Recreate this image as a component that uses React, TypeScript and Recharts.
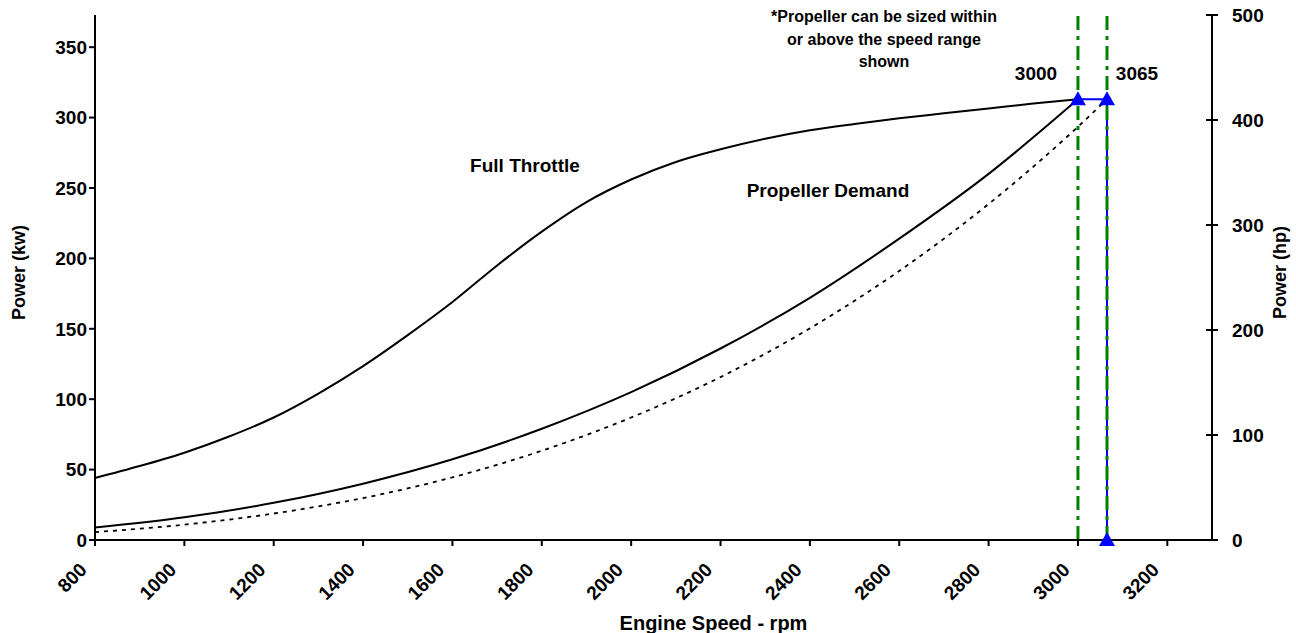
import React from 'react';
import { ComposedChart, Line, XAxis, YAxis, ReferenceLine, Label } from 'recharts';

// engine speed ticks (rpm) and power ticks
const rpmTicks = [800, 1000, 1200, 1400, 1600, 1800, 2000, 2200, 2400, 2600, 2800, 3000, 3200];
const kwTicks = [0, 50, 100, 150, 200, 250, 300, 350];
const hpTicks = [0, 100, 200, 300, 400, 500];

// full throttle power curve
const throttleRpm = [800, 900, 1000, 1100, 1200, 1300, 1400, 1500, 1600, 1700, 1800, 1900,
  2000, 2100, 2200, 2300, 2400, 2500, 2600, 2700, 2800, 2900, 3000];
const throttleKw = [44, 52.5, 62, 73.5, 87, 104, 123.5, 145.5, 169, 195, 219, 240,
  256, 268.5, 277.5, 285, 291, 295.5, 299.5, 303, 306.5, 310, 313];

// propeller demand (solid), rated at 3000 rpm
const demandRpm = [800, 1000, 1200, 1400, 1600, 1800, 2000, 2200, 2400, 2600, 2800, 3000];
const demandKw = [8.8, 16.1, 26.4, 40, 57.3, 79, 105, 136, 172, 214, 260, 313];

// propeller demand (dotted), rated at 3065 rpm
const demand2Rpm = [800, 1000, 1200, 1400, 1600, 1800, 2000, 2200, 2400, 2600, 2800, 3000, 3065];
const demand2Kw = [5.6, 10.9, 18.8, 29.8, 44.5, 63.4, 87, 115.7, 150.3, 191.1, 238.6, 293.5, 313];

// rated points
const ratedRpm = [3000, 3065, 3065];
const ratedKw = [313, 313, 0];

const throttleData = throttleRpm.map((rpm, i) => ({ rpm, kw: throttleKw[i] }));
const demandData = demandRpm.map((rpm, i) => ({ rpm, kw: demandKw[i] }));
const demand2Data = demand2Rpm.map((rpm, i) => ({ rpm, kw: demand2Kw[i] }));
const ratedData = ratedRpm.map((rpm, i) => ({ rpm, kw: ratedKw[i] }));

const FONT = '"Liberation Sans", Arial, sans-serif';

const Triangle = (props: any) => {
  const { cx, cy } = props;
  if (cx == null || cy == null) return null;
  return (
    <polygon
      key={`tri-${cx}-${cy}`}
      points={`${cx},${cy - 8} ${cx - 8},${cy + 6} ${cx + 8},${cy + 6}`}
      fill="#0000FF"
    />
  );
};

const renderXTick = (props: any) => {
  const { x, y, payload } = props;
  const tx = x - 7;
  const ty = y + 23;
  return (
    <text x={tx} y={ty} textAnchor="end" fontFamily={FONT} fontWeight="bold" fontSize={19}
      fill="#000" transform={`rotate(-45, ${tx}, ${ty})`}>
      {payload.value}
    </text>
  );
};

// right axis ticks cross the axis line, so the inner half is drawn here
const renderHpTick = (props: any) => {
  const { x, y, payload } = props;
  const ax = x - 8;
  return (
    <g>
      <line x1={ax - 6} x2={ax} y1={y} y2={y} stroke="#000" strokeWidth={2} />
      <text x={ax + 20} y={y + 7} textAnchor="start" fontFamily={FONT} fontWeight="bold" fontSize={19} fill="#000">
        {payload.value}
      </text>
    </g>
  );
};

const tickStyle = { fontFamily: FONT, fontWeight: 'bold' as const, fontSize: 19, fill: '#000' };
const titleStyle = { fontFamily: FONT, fontWeight: 'bold', fontSize: 18, fill: '#000' };

export default function App() {
  return (
    <div style={{ position: 'absolute', left: 0, top: 0, width: 1296, height: 633, background: '#fff' }}>
      <ComposedChart width={1296} height={633} margin={{ top: 15, right: 0, bottom: 0, left: 0 }}>
        <XAxis type="number" dataKey="rpm" domain={[800, 3300]} ticks={rpmTicks} interval={0}
          height={93} stroke="#000" strokeWidth={2} tickSize={6} tick={renderXTick}>
          <Label value="Engine Speed - rpm" position="insideBottom" offset={3} dx={60}
            style={{ ...titleStyle, fontSize: 20 }} />
        </XAxis>
        <YAxis yAxisId="kw" domain={[0, 372.85]} ticks={kwTicks} interval={0} width={95}
          stroke="#000" strokeWidth={2} tickSize={6} tick={tickStyle}>
          <Label value="Power (kw)" angle={-90} position="center" dx={-29} dy={-5} style={titleStyle} />
        </YAxis>
        <YAxis yAxisId="hp" orientation="right" domain={[0, 500]} ticks={hpTicks} interval={0} width={84}
          allowDataOverflow stroke="#000" strokeWidth={2} tickSize={6} tick={renderHpTick}>
          <Label value="Power (hp)" angle={-90} position="center" dx={26} dy={-5} style={titleStyle} />
        </YAxis>

        <ReferenceLine yAxisId="kw" x={3000} stroke="#008000" strokeWidth={3} strokeDasharray="14 6 4 6" />

        <Line yAxisId="kw" data={throttleData} dataKey="kw" type="monotone" stroke="#000" strokeWidth={2}
          dot={false} isAnimationActive={false} />
        <Line yAxisId="kw" data={demandData} dataKey="kw" type="monotone" stroke="#000" strokeWidth={2}
          dot={false} isAnimationActive={false} />
        <Line yAxisId="kw" data={demand2Data} dataKey="kw" type="monotone" stroke="#000" strokeWidth={1.8}
          strokeDasharray="4 5" dot={false} isAnimationActive={false} />
        <Line yAxisId="kw" data={ratedData} dataKey="kw" type="linear" stroke="#0000FF" strokeWidth={2}
          dot={<Triangle />} isAnimationActive={false} />

        <ReferenceLine yAxisId="kw" x={3065} stroke="#008000" strokeWidth={3} strokeDasharray="14 6 4 6" />
      </ComposedChart>

      <svg width={1296} height={633} style={{ position: 'absolute', left: 0, top: 0, pointerEvents: 'none' }}
        fontFamily={FONT} fontWeight="bold" fill="#000">
        <text x={884} y={22} fontSize={16} textAnchor="middle">*Propeller can be sized within</text>
        <text x={884} y={45} fontSize={16} textAnchor="middle">or above the speed range</text>
        <text x={884} y={67} fontSize={16} textAnchor="middle">shown</text>
        <text x={1036} y={80} fontSize={19} textAnchor="middle">3000</text>
        <text x={1137} y={80} fontSize={19} textAnchor="middle">3065</text>
        <text x={525} y={172} fontSize={19} textAnchor="middle">Full Throttle</text>
        <text x={828} y={197} fontSize={19} textAnchor="middle">Propeller Demand</text>
      </svg>
    </div>
  );
}
